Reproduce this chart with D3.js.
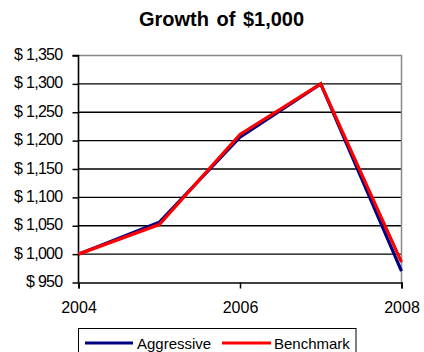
<!DOCTYPE html>
<html><head><meta charset="utf-8">
<script src="https://cdn.jsdelivr.net/npm/d3@7"></script>
<style>body{margin:0;background:#fff}svg{display:block;font-family:"Liberation Sans",Arial,sans-serif}</style>
</head><body>
<svg id="c" width="424" height="352"></svg>
<script>
const years = [2004, 2005, 2006, 2007, 2008];
const aggressive = [1000, 1056, 1206, 1300, 970];
const benchmark = [1000, 1052, 1211, 1300, 986];
const yTicks = [950, 1000, 1050, 1100, 1150, 1200, 1250, 1300, 1350];
const xTicks = [2004, 2006, 2008];
const seriesNames = ["Aggressive", "Benchmark"];
const colors = ["#000080", "#ff0000"];
const title = "Growth of $1,000";

const svg = d3.select("#c");
const x = d3.scaleLinear().domain([2004, 2008]).range([78.5, 401.5]);
const y = d3.scaleLinear().domain([950, 1350]).range([282.5, 55.5]);

svg.append("text").attr("x", 221.5).attr("y", 25.5).attr("text-anchor", "middle")
  .attr("font-size", 20).attr("font-weight", "bold").attr("word-spacing", 2).text(title);

// gridlines
svg.append("g").selectAll("line").data(yTicks.slice(1, -1)).join("line")
  .attr("x1", x(2004)).attr("x2", x(2008)).attr("y1", d => y(d)).attr("y2", d => y(d))
  .attr("stroke", "#000").attr("stroke-width", 1.4);
// top / right border
svg.append("path").attr("d", `M${x(2004)},${y(1350)}H${x(2008)}V${y(950)}`)
  .attr("fill", "none").attr("stroke", "#888").attr("stroke-width", 1.5);

const yAxis = svg.append("g").attr("transform", `translate(${x(2004)},0)`)
  .call(d3.axisLeft(y).tickValues(yTicks).tickSize(6).tickPadding(10)
    .tickFormat(d => "$ " + d3.format(",")(d)));
const xAxis = svg.append("g").attr("transform", `translate(0,${y(950)})`)
  .call(d3.axisBottom(x).tickValues(xTicks).tickSize(6).tickPadding(13).tickFormat(d3.format("d")));
[yAxis, xAxis].forEach(a => {
  a.selectAll("path.domain").attr("stroke", "#000").attr("stroke-width", 1.6);
  a.selectAll("line").attr("stroke", "#000").attr("stroke-width", 1.5);
  a.selectAll("text").attr("font-size", 16).attr("fill", "#000")
    .attr("font-family", '"Liberation Sans",Arial,sans-serif');
});
yAxis.selectAll("text").attr("letter-spacing", -0.7).attr("dy", "0.25em");
yAxis.select("path.domain").attr("d", `M-6,${y(1350)}H0V${y(950)}`);

const line = d3.line().x((d, i) => x(years[i])).y(d => y(d));
[aggressive, benchmark].forEach((s, k) => {
  svg.append("path").datum(s).attr("d", line).attr("fill", "none")
    .attr("stroke", colors[k]).attr("stroke-width", 3.2).attr("stroke-linejoin", "miter");
});

// legend
const lg = svg.append("g");
lg.append("rect").attr("x", 78.5).attr("y", 328.5).attr("width", 277.5).attr("height", 30)
  .attr("fill", "#fff").attr("stroke", "#000").attr("stroke-width", 1);
const items = [{x1: 85, x2: 133, tx: 137}, {x1: 222, x2: 271, tx: 274}];
items.forEach((it, k) => {
  lg.append("line").attr("x1", it.x1).attr("x2", it.x2).attr("y1", 343).attr("y2", 343)
    .attr("stroke", colors[k]).attr("stroke-width", 3.2);
  lg.append("text").attr("x", it.tx).attr("y", 348.5).attr("font-size", 15).text(seriesNames[k]);
});
</script>
</body></html>
